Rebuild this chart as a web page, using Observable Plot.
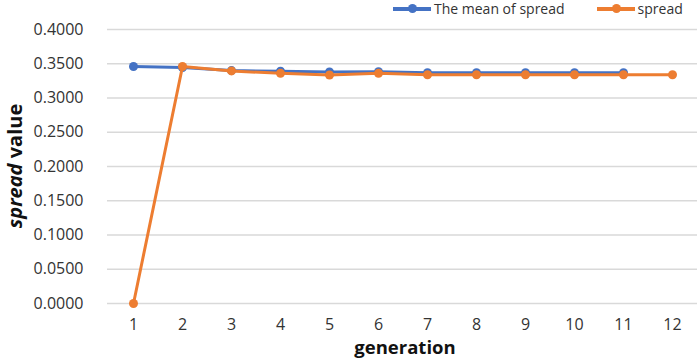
<!DOCTYPE html>
<html>
<head>
<meta charset="utf-8">
<script src="https://cdn.jsdelivr.net/npm/d3@7"></script>
<script src="https://cdn.jsdelivr.net/npm/@observablehq/plot@0.6"></script>
<style>
  body { margin: 0; background: #fff; font-family: "Open Sans", "DejaVu Sans", sans-serif; }
  #wrap { position: relative; width: 700px; height: 360px; }
  #legend { position: absolute; top: -1px; left: 393px; font-size: 14px; color: #333; display: flex; align-items: center; white-space: nowrap; font-family: "Open Sans", "DejaVu Sans", sans-serif; }
  .item { display: flex; align-items: center; margin-right: 32px; }
  .sw { position: relative; width: 38px; height: 4px; margin-right: 3px; }
  .sw i { position: absolute; left: 15px; top: -3px; width: 9px; height: 9px; border-radius: 50%; }
</style>
</head>
<body>
<div id="wrap">
  <div id="legend"></div>
</div>
<script>
const generations = [1, 2, 3, 4, 5, 6, 7, 8, 9, 10, 11, 12];
const meanSpread = [0.3460, 0.3445, 0.3400, 0.3390, 0.3380, 0.3385, 0.3370, 0.3370, 0.3370, 0.3370, 0.3368];
const spread = [0.0000, 0.3460, 0.3395, 0.3360, 0.3335, 0.3360, 0.3340, 0.3340, 0.3340, 0.3340, 0.3340, 0.3340];
const yTicks = [0, 0.05, 0.1, 0.15, 0.2, 0.25, 0.3, 0.35, 0.4];
const seriesNames = ["The mean of spread", "spread"];
const colors = ["#4472C4", "#ED7D31"];

const meanData = meanSpread.map((v, i) => ({gen: generations[i], value: v}));
const spreadData = spread.map((v, i) => ({gen: generations[i], value: v}));

const chart = Plot.plot({
  width: 700,
  height: 360,
  marginTop: 29,
  marginBottom: 57,
  marginLeft: 107,
  marginRight: 3,
  style: {fontFamily: "'Open Sans', 'DejaVu Sans', sans-serif", color: "#333", background: "#fff"},
  x: {type: "point", domain: generations, padding: 0.5, label: null},
  y: {domain: [0, 0.4], label: null},
  marks: [
    Plot.gridY(yTicks, {stroke: "#d9d9d9", strokeOpacity: 1, strokeWidth: 1.5}),
    Plot.axisY(yTicks, {tickFormat: d3.format(".4f"), tickSize: 0, tickPadding: 24, fontSize: 16, fill: "#333", label: null}),
    Plot.axisX(generations, {tickSize: 0, tickPadding: 15, fontSize: 16, fill: "#333", label: null}),
    Plot.line(meanData, {x: "gen", y: "value", stroke: colors[0], strokeWidth: 3}),
    Plot.dot(meanData, {x: "gen", y: "value", fill: colors[0], r: 4.5}),
    Plot.line(spreadData, {x: "gen", y: "value", stroke: colors[1], strokeWidth: 3}),
    Plot.dot(spreadData, {x: "gen", y: "value", fill: colors[1], r: 4.5})
  ]
});
document.getElementById("wrap").appendChild(chart);

const svg = d3.select(chart);
// y axis title
const yt = svg.append("text")
  .attr("transform", "translate(22,166) rotate(-90)")
  .attr("text-anchor", "middle")
  .attr("font-size", 20)
  .attr("font-weight", "bold")
  .attr("fill", "#111")
  .attr("font-family", "'Open Sans', 'DejaVu Sans', sans-serif");
yt.append("tspan").attr("font-style", "italic").text("spread");
yt.append("tspan").text(" value");
// x axis title
svg.append("text")
  .attr("x", 405).attr("y", 354)
  .attr("text-anchor", "middle")
  .attr("font-size", 18.5)
  .attr("font-weight", "bold")
  .attr("fill", "#111")
  .attr("font-family", "'Open Sans', 'DejaVu Sans', sans-serif")
  .text("generation");

// legend
const legend = d3.select("#legend");
seriesNames.forEach((name, i) => {
  const it = legend.append("div").attr("class", "item");
  const sw = it.append("div").attr("class", "sw").style("background", colors[i]);
  sw.append("i").style("background", colors[i]);
  it.append("span").text(name);
});
</script>
</body>
</html>
